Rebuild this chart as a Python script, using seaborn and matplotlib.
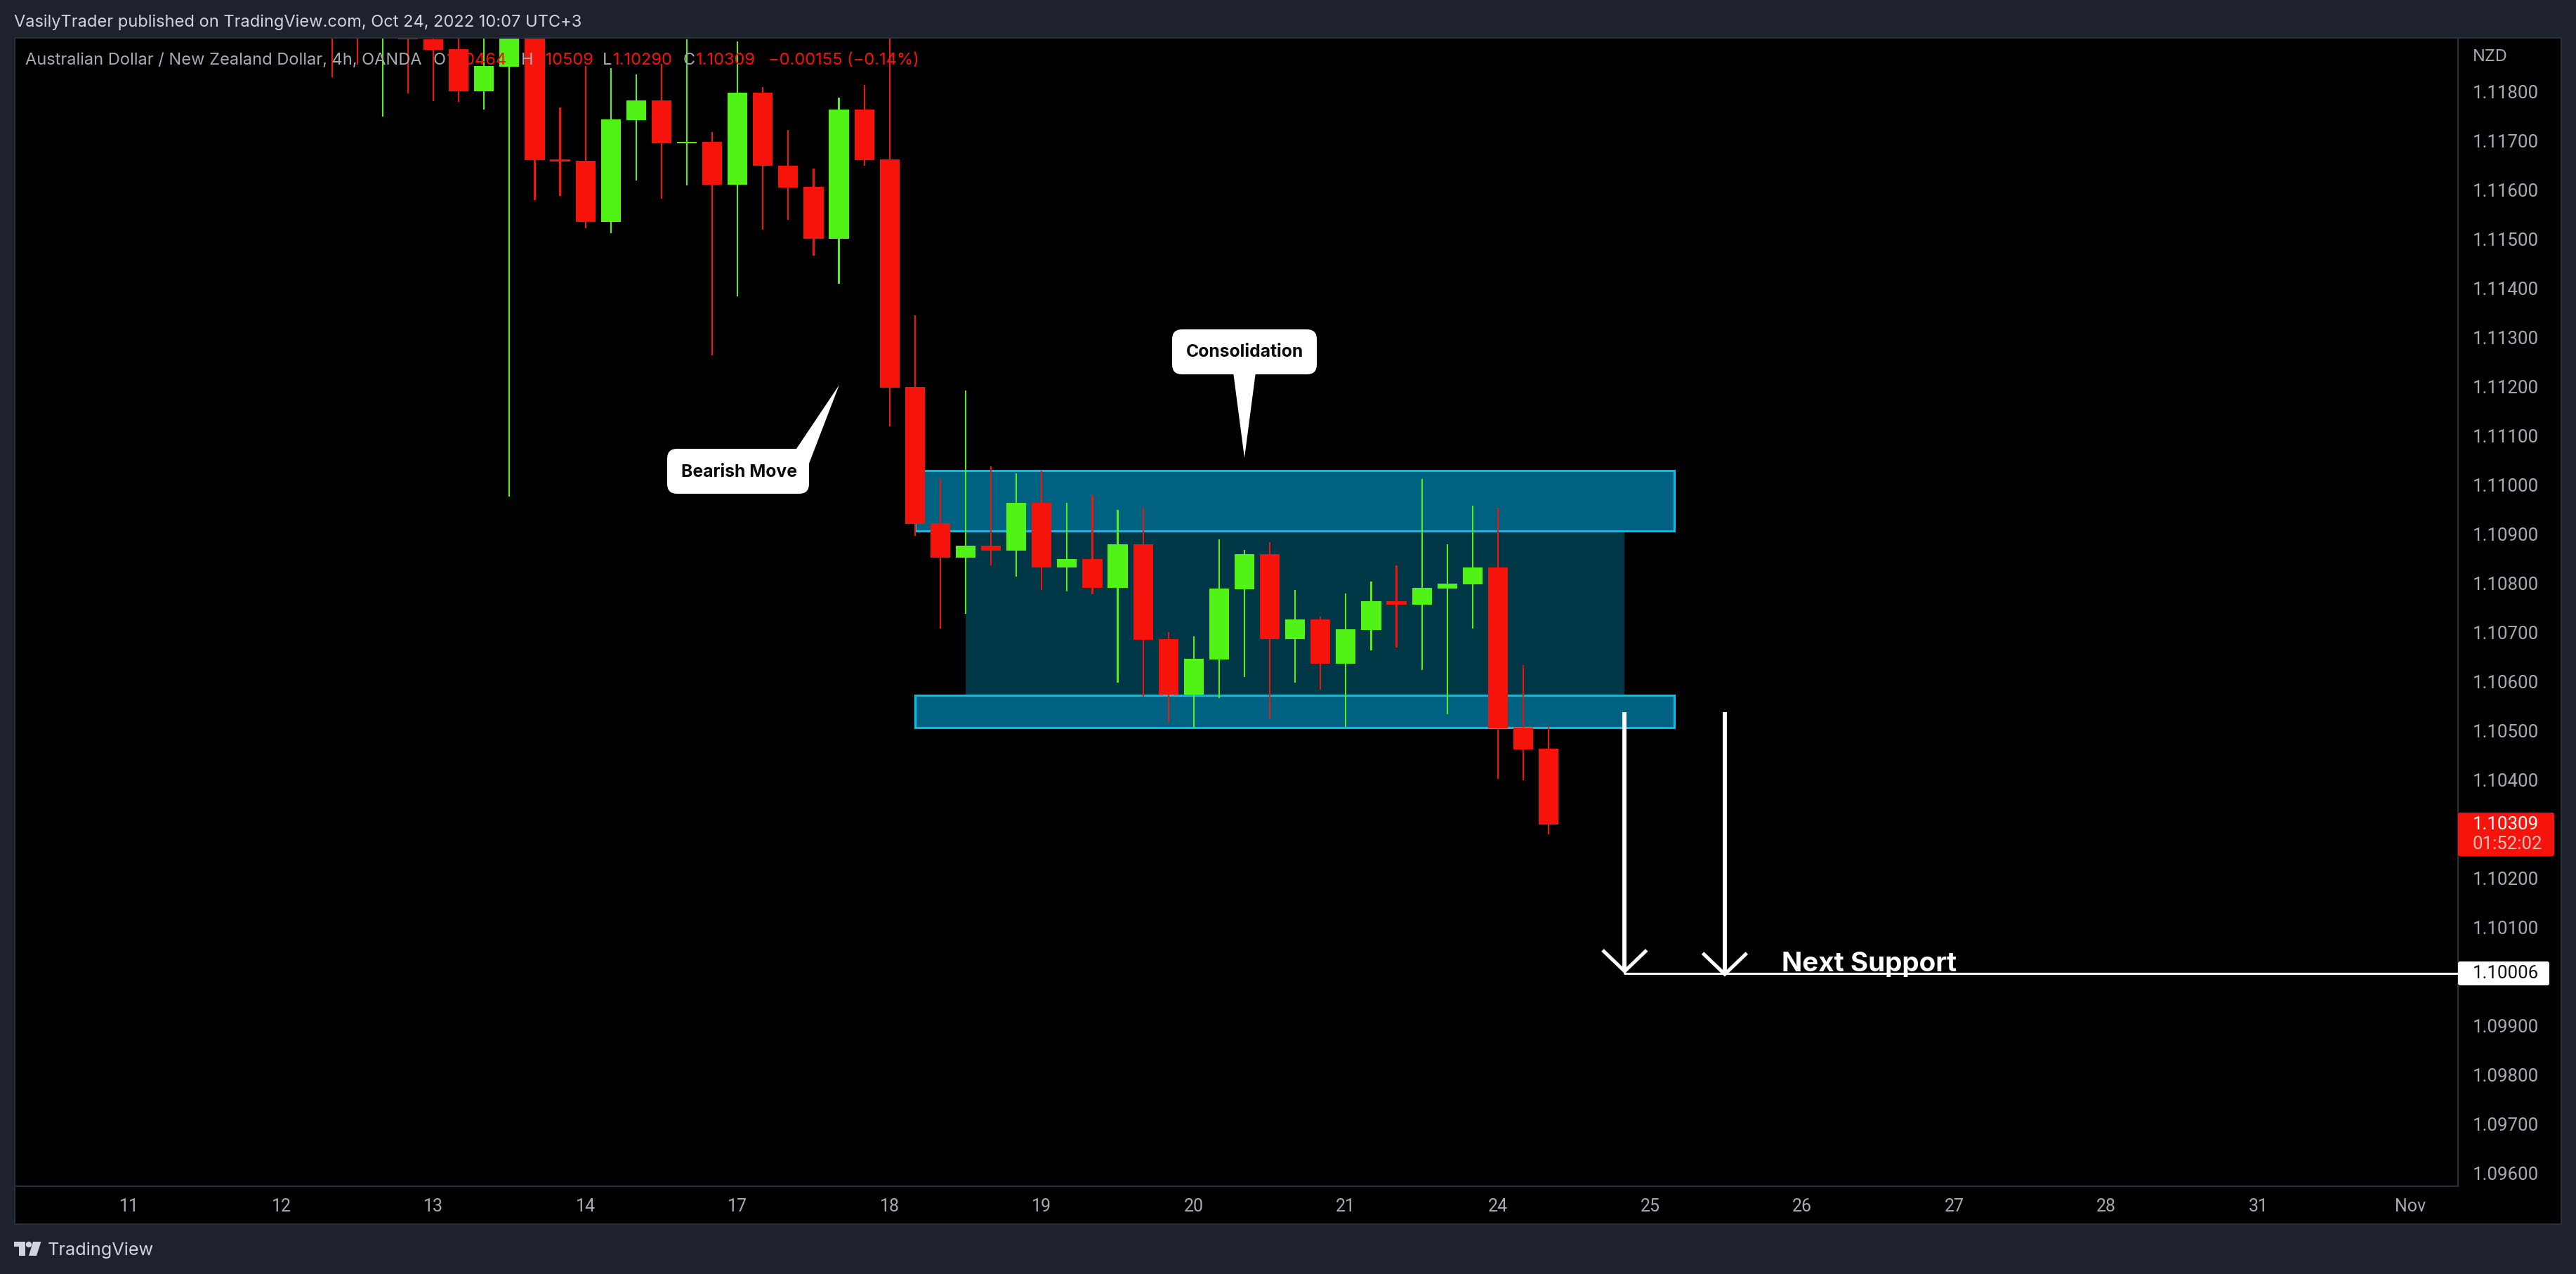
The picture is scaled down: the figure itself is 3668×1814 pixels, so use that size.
import matplotlib
matplotlib.use("Agg")
import matplotlib.pyplot as plt
import pandas as pd
import seaborn as sns
from matplotlib.patches import FancyBboxPatch, Polygon, Rectangle, Circle
from matplotlib.transforms import IdentityTransform

# 4h bars, index 0 sits on the "11" tick, six bars per day
bar_start = 8
opens = [1.1196, 1.11925, 1.11908, 1.11925, 1.11907, 1.11887, 1.11801, 1.11851, 1.1195, 1.11662,
         1.11659, 1.11535, 1.11742, 1.11782, 1.11696, 1.11698, 1.11611, 1.11798, 1.11650, 1.11607,
         1.11501, 1.11764, 1.11662, 1.11200, 1.10922, 1.10852, 1.10877, 1.10867, 1.10964, 1.10832,
         1.10850, 1.10791, 1.10880, 1.10687, 1.10574, 1.10645, 1.10788, 1.10860, 1.10687, 1.10727,
         1.10637, 1.10705, 1.10764, 1.10756, 1.10790, 1.10798, 1.10832, 1.10507, 1.10464]
highs = [1.1198, 1.1194, 1.1193, 1.1194, 1.1194, 1.1193, 1.1192, 1.1195, 1.1197, 1.11768,
         1.11853, 1.11848, 1.11836, 1.11857, 1.11907, 1.11718, 1.11903, 1.11810, 1.11722, 1.11644,
         1.11788, 1.11814, 1.1193, 1.11346, 1.11013, 1.11193, 1.11038, 1.11024, 1.11029, 1.10964,
         1.10980, 1.10950, 1.10954, 1.10701, 1.10692, 1.10890, 1.10868, 1.10884, 1.10787, 1.10732,
         1.10780, 1.10804, 1.10836, 1.11012, 1.10880, 1.10958, 1.10954, 1.10634, 1.10509]
lows = [1.11829, 1.11855, 1.11749, 1.11797, 1.11781, 1.11780, 1.11764, 1.10977, 1.11580, 1.11588,
        1.11523, 1.11513, 1.11620, 1.11582, 1.11609, 1.11264, 1.11384, 1.11519, 1.11540, 1.11467,
        1.11409, 1.11649, 1.11120, 1.10897, 1.10708, 1.10738, 1.10836, 1.10814, 1.10787, 1.10784,
        1.10778, 1.10598, 1.10570, 1.10517, 1.10506, 1.10567, 1.10610, 1.10524, 1.10598, 1.10584,
        1.10508, 1.10664, 1.10669, 1.10624, 1.10534, 1.10708, 1.10402, 1.10399, 1.10290]
closes = [1.1193, 1.11908, 1.11915, 1.11907, 1.11886, 1.11801, 1.11852, 1.1192, 1.11661, 1.11658,
          1.11535, 1.11744, 1.11782, 1.11696, 1.11698, 1.11611, 1.11798, 1.11649, 1.11605, 1.11501,
          1.11764, 1.11661, 1.11198, 1.10921, 1.10852, 1.10877, 1.10867, 1.10964, 1.10832, 1.10850,
          1.10791, 1.10880, 1.10685, 1.10574, 1.10647, 1.10790, 1.10860, 1.10687, 1.10727, 1.10637,
          1.10707, 1.10764, 1.10756, 1.10791, 1.10800, 1.10832, 1.10505, 1.10462, 1.10309]

price_ticks = [1.118, 1.117, 1.116, 1.115, 1.114, 1.113, 1.112, 1.111, 1.110, 1.109, 1.108, 1.107,
               1.106, 1.105, 1.104, 1.102, 1.101, 1.099, 1.098, 1.097, 1.096]
date_ticks = [0, 6, 12, 18, 24, 30, 36, 42, 48, 54, 60, 66, 72, 78, 84, 90]
date_labels = ["11", "12", "13", "14", "17", "18", "19", "20", "21", "24", "25", "26", "27", "28", "31", "Nov"]

# zones: left bar, right bar, bottom price, top price
upper_zone = [31, 60.95, 1.10906, 1.11030]
lower_zone = [31, 60.95, 1.10507, 1.10573]
inner_zone = [33, 59, 1.10573, 1.10906]

support = 1.10006
arrow_x = [59, 62.95]
arrow_top = [1.10538, 1.10538]
arrow_tip = [1.10011, 1.10005]

RED = "#F6130C"
GREEN = "#50F315"
GREY = "#A8ABB4"
PANEL = "#1E222D"
EDGE = "#2A2E39"
W, H = 3668, 1814

sns.set_theme(style="dark", rc={"figure.facecolor": PANEL, "axes.facecolor": "black"})
plt.rcParams["font.family"] = ["Inter", "DejaVu Sans"]

df = pd.DataFrame({"open": opens, "high": highs, "low": lows, "close": closes})
df["bar"] = range(bar_start, bar_start + len(df))
df["top"] = df[["open", "close"]].max(axis=1)
df["bottom"] = df[["open", "close"]].min(axis=1)
df["up"] = df["close"] > df["open"]

fig = plt.figure(figsize=(W / 100, H / 100), dpi=100)
fig.add_artist(Rectangle((21, H - 1743), 3626, 1689, transform=IdentityTransform(),
                         facecolor="black", edgecolor=EDGE, linewidth=1.5, zorder=-1))
ax = fig.add_axes([21 / W, 1 - 1689 / H, (3500 - 21) / W, (1689 - 54) / H])


def zone(z, fill, edge=None):
    ax.add_patch(Rectangle((z[0], z[2]), z[1] - z[0], z[3] - z[2], facecolor=fill,
                           edgecolor=edge if edge else fill, linewidth=2.2 if edge else 0, zorder=0.5))


zone(inner_zone, "#003747")
zone(upper_zone, "#006280", "#00BFEF")
zone(lower_zone, "#006280", "#00BFEF")

# wicks and bodies
for up, color in [(False, RED), (True, GREEN)]:
    sub = df[df["up"] == up]
    sns.barplot(x=sub["bar"], y=sub["high"] - sub["low"], bottom=sub["low"].values, native_scale=True,
                color=color, saturation=1, width=0.06, errorbar=None, linewidth=0, ax=ax)
    sns.barplot(x=sub["bar"], y=sub["top"] - sub["bottom"], bottom=sub["bottom"].values, native_scale=True,
                color=color, saturation=1, width=0.78, errorbar=None, linewidth=0, ax=ax)

# next support line and the two arrows
ax.plot([arrow_x[0], 95], [support, support], color="white", lw=2.2, zorder=3)
for x, top, tip in zip(arrow_x, arrow_top, arrow_tip):
    ax.plot([x, x], [top, tip], color="white", lw=4.2, solid_capstyle="butt", zorder=3)
    ax.plot([x - 0.87, x, x + 0.87], [tip + 0.00043, tip, tip + 0.00043], color="white", lw=3.6,
            solid_capstyle="butt", solid_joinstyle="miter", zorder=3)

ax.set_xlim(-4.517, 91.88)
ax.set_ylim(1.095738, 1.119096)
ax.set_xlabel("")
ax.set_ylabel("")
ax.yaxis.tick_right()
ax.set_yticks(price_ticks, [f"{p:.5f}" for p in price_ticks], family="Roboto")
ax.set_xticks(date_ticks, date_labels, family="Roboto")
ax.tick_params(axis="y", length=0, pad=15, labelsize=18.6, labelcolor=GREY)
ax.tick_params(axis="x", length=0, pad=12.5, labelsize=18, labelcolor=GREY)
for s in ax.spines.values():
    s.set_visible(True)
    s.set_color(EDGE)
    s.set_linewidth(1.5)
ax.grid(False)


def px_text(x, y, s, **kw):
    kw.setdefault("va", "center")
    kw.setdefault("fontsize", 17)
    fig.text(x / W, 1 - y / H, s, **kw)


def px_patch(patch):
    patch.set_transform(IdentityTransform())
    patch.set_zorder(4)
    fig.add_artist(patch)


def px_pts(pts):
    return [(x, H - y) for x, y in pts]


def callout(x0, y0, x1, y1, tail, text, cx, cy):
    px_patch(Polygon(px_pts(tail), closed=True, facecolor="white", edgecolor="none"))
    px_patch(FancyBboxPatch((x0 + 14, H - y1 + 14), x1 - x0 - 28, y1 - y0 - 28,
                            boxstyle="round,pad=14,rounding_size=14",
                            facecolor="white", edgecolor="none"))
    px_text(cx, cy, text, ha="center", color="#0B0B0F", fontsize=17.8, fontweight="bold", zorder=5)


callout(1669, 469, 1875, 533, [(1756, 530), (1788, 530), (1772, 652)], "Consolidation", 1772, 502)
callout(950, 639, 1152, 703, [(1130, 645), (1152, 660), (1195, 548)], "Bearish Move", 1052, 672)

px_text(2537, 1373, "Next Support", color="white", fontsize=27.8, fontweight="bold", zorder=5)

# header and the legend line
px_text(20, 32, "VasilyTrader published on TradingView.com, Oct 24, 2022 10:07 UTC+3", color="#D1D4DC")
legend_bits = [(36, "Australian Dollar / New Zealand Dollar, 4h, OANDA", GREY), (617, "O", GREY),
               (636, "1.10464", RED), (742, "H", GREY), (761, "1.10509", RED), (858, "L", GREY),
               (873, "1.10290", RED), (973, "C", GREY), (991, "1.10309", RED),
               (1094, "\u22120.00155 (\u22120.14%)", RED)]
for x, s, c in legend_bits:
    px_text(x, 86, s, color=c, zorder=3)

# price scale tags
px_text(3521, 81, "NZD", color=GREY)
px_patch(FancyBboxPatch((3500, H - 1219), 137, 62, boxstyle="round,pad=0,rounding_size=3",
                        facecolor=RED, edgecolor="none"))
px_text(3521, 1174, "1.10309", color="white", zorder=5, fontsize=18.6, family="Roboto")
px_text(3520, 1202, "01:52:02", color="#FBC0BC", zorder=5, fontsize=18.6, family="Roboto")
px_patch(FancyBboxPatch((3500, H - 1403), 130, 34, boxstyle="round,pad=0,rounding_size=3",
                        facecolor="white", edgecolor="none"))
px_text(3521, 1386, "1.10006", color="#111111", zorder=5, fontsize=18.6, family="Roboto")

# TradingView mark in the footer
LOGO = "#D1D4DC"
px_patch(Polygon(px_pts([(20, 1768), (36, 1768), (36, 1788), (27, 1788), (27, 1775), (20, 1775)]),
                 closed=True, facecolor=LOGO, edgecolor="none"))
px_patch(Circle((41, H - 1772), 4.2, facecolor=LOGO, edgecolor="none"))
px_patch(Polygon(px_pts([(47, 1768), (58.5, 1768), (52, 1788), (41, 1788)]),
                 closed=True, facecolor=LOGO, edgecolor="none"))
px_text(68, 1780, "TradingView", color=LOGO, fontsize=18.2)

fig.savefig("out.png", dpi=100)
